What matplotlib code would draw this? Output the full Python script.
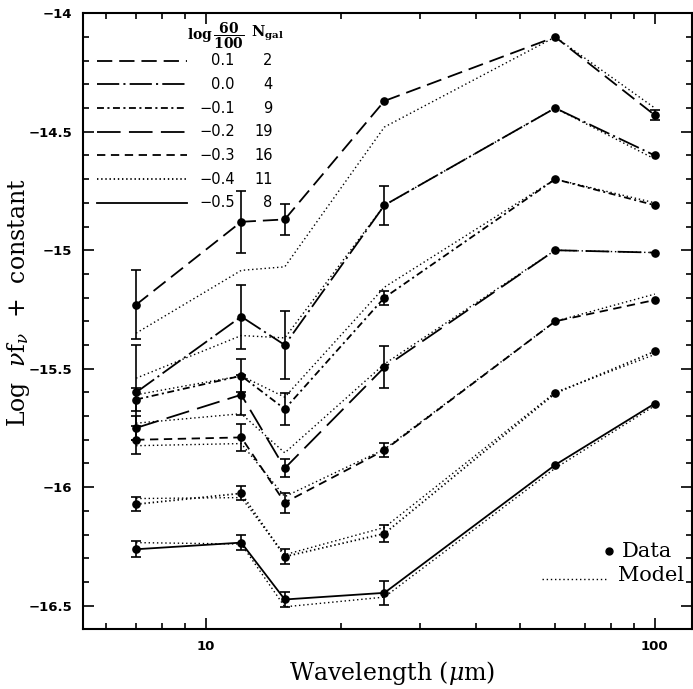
import numpy as np
import matplotlib
matplotlib.use('Agg')
import matplotlib.pyplot as plt
import matplotlib.transforms as mtransforms
from matplotlib.ticker import FixedLocator, NullFormatter, MultipleLocator

plt.rcParams['lines.scale_dashes'] = False
plt.rcParams['mathtext.fontset'] = 'dejavuserif'

wave = [7, 12, 15, 25, 60, 100]
ratio_labels = ['0.1', '0.0', '\u22120.1', '\u22120.2', '\u22120.3', '\u22120.4', '\u22120.5']
n_gal = [2, 4, 9, 19, 16, 11, 8]

data_p01 = [-15.23, -14.88, -14.87, -14.37, -14.10, -14.43]
err_p01 = [0.145, 0.13, 0.065, 0, 0, 0.02]
model_p01 = [-15.35, -15.085, -15.07, -14.48, -14.10, -14.40]

data_000 = [-15.60, -15.28, -15.40, -14.81, -14.40, -14.60]
err_000 = [0.2, 0.135, 0.143, 0.083, 0, 0]
model_000 = [-15.54, -15.36, -15.37, -14.81, -14.40, -14.615]

data_m01 = [-15.63, -15.53, -15.67, -15.20, -14.70, -14.81]
err_m01 = [0.05, 0.07, 0.067, 0.03, 0, 0]
model_m01 = [-15.61, -15.53, -15.62, -15.156, -14.70, -14.80]

data_m02 = [-15.75, -15.61, -15.92, -15.494, -15.00, -15.01]
err_m02 = [0.05, 0.085, 0.037, 0.088, 0, 0]
model_m02 = [-15.73, -15.69, -15.855, -15.48, -15.00, -15.01]

data_m03 = [-15.80, -15.79, -16.065, -15.844, -15.30, -15.21]
err_m03 = [0.06, 0.056, 0.042, 0.03, 0, 0]
model_m03 = [-15.825, -15.816, -16.04, -15.84, -15.30, -15.185]

data_m04 = [-16.072, -16.026, -16.293, -16.196, -15.604, -15.427]
err_m04 = [0.03, 0.03, 0.032, 0.037, 0, 0]
model_m04 = [-16.048, -16.044, -16.285, -16.17, -15.60, -15.44]

data_m05 = [-16.262, -16.234, -16.474, -16.446, -15.906, -15.647]
err_m05 = [0.034, 0.032, 0.032, 0.052, 0, 0]
model_m05 = [-16.234, -16.24, -16.505, -16.464, -15.92, -15.656]

all_data = [data_p01, data_000, data_m01, data_m02, data_m03, data_m04, data_m05]
all_err = [err_p01, err_000, err_m01, err_m02, err_m03, err_m04, err_m05]
all_model = [model_p01, model_000, model_m01, model_m02, model_m03, model_m04, model_m05]

# dash patterns (points) for each ratio group
styles = [(0, (11, 5)),
          (0, (16, 3, 1.5, 3)),
          (0, (5, 2.5, 1.5, 2.5)),
          (0, (17, 6)),
          (0, (6, 4)),
          (0, (1, 2)),
          '-']
model_style = (0, (1, 2))

fig = plt.figure(figsize=(6.93, 6.89), dpi=100)
ax = fig.add_axes([0.1202, 0.0866, 0.8784, 0.8941])
ax.set_xscale('log')
ax.set_xlim(5.34, 121)
ax.set_ylim(-16.6, -14.0)

for d, e, m, ls in zip(all_data, all_err, all_model, styles):
    ax.plot(wave, m, color='black', lw=1.0, linestyle=model_style)
    ax.plot(wave, d, color='black', lw=1.3, linestyle=ls)
    w = np.array(wave)
    dd = np.array(d)
    ee = np.array(e)
    ok = ee > 0
    ax.errorbar(w[ok], dd[ok], yerr=ee[ok], fmt='none', ecolor='black',
                elinewidth=1.2, capsize=3.5, capthick=1.2)
    ax.plot(wave, d, 'o', color='black', ms=5.2, linestyle='none')

# table legend top-left
trans = mtransforms.blended_transform_factory(ax.transAxes, ax.transData)
row_y = [-14.2, -14.3, -14.4, -14.5, -14.6, -14.7, -14.8]
for yy, ls, lab, n in zip(row_y, styles, ratio_labels, n_gal):
    ax.plot([0.0225, 0.170], [yy, yy], transform=trans, color='black',
            lw=1.3, linestyle=ls, clip_on=False)
    ax.text(0.249, yy, lab, transform=trans, ha='right', va='center',
            fontsize=10.5, family='DejaVu Sans')
    ax.text(0.311, yy, str(n), transform=trans, ha='right', va='center',
            fontsize=10.5, family='DejaVu Sans')
ax.text(0.170, -14.095, r'$\mathbf{log}\,\dfrac{\mathbf{60}}{\mathbf{100}}$', transform=trans,
        ha='left', va='center', fontsize=10)
ax.text(0.275, -14.085, r'$\mathbf{N_{gal}}$', transform=trans,
        ha='left', va='center', fontsize=10.5)

# Data / Model key bottom-right
ax.plot([0.863], [0.127], 'o', color='black', ms=5, transform=ax.transAxes)
ax.text(0.885, 0.127, 'Data', transform=ax.transAxes, ha='left', va='center',
        fontsize=15, family='DejaVu Serif')
ax.plot([0.753, 0.862], [0.0815, 0.0815], transform=ax.transAxes, color='black',
        lw=1.0, linestyle=model_style)
ax.text(0.878, 0.0875, 'Model', transform=ax.transAxes, ha='left', va='center',
        fontsize=15, family='DejaVu Serif')

# ticks
ax.xaxis.set_major_locator(FixedLocator([10, 100]))
ax.xaxis.set_minor_locator(FixedLocator([6, 7, 8, 9, 20, 30, 40, 50, 60, 70, 80, 90]))
ax.xaxis.set_minor_formatter(NullFormatter())
ax.set_xticklabels(['10', '100'])
ax.yaxis.set_major_locator(MultipleLocator(0.5))
ax.yaxis.set_minor_locator(MultipleLocator(0.1))
ax.set_yticks([-14, -14.5, -15, -15.5, -16, -16.5])
ax.set_yticklabels(['\u221214', '\u221214.5', '\u221215', '\u221215.5', '\u221216', '\u221216.5'])
ax.tick_params(which='both', direction='in', top=True, right=True, width=1.2,
               labelsize=9.5, pad=8)
ax.tick_params(which='major', length=8)
ax.tick_params(which='minor', length=4)
for lab in ax.get_xticklabels() + ax.get_yticklabels():
    lab.set_family('DejaVu Sans')
    lab.set_fontweight('semibold')
for sp in ax.spines.values():
    sp.set_linewidth(1.5)

ax.set_xlabel(r'Wavelength ($\mu$m)', fontsize=17, family='DejaVu Serif')
ax.xaxis.label.set_va('center')
ax.xaxis.set_label_coords(0.507, -0.071)
ax.set_ylabel(r'Log  $\nu$f$_\nu$  +  constant', fontsize=17, family='DejaVu Serif')
ax.yaxis.label.set_va('center')
ax.yaxis.set_label_coords(-0.106, 0.53)

fig.savefig('out.png', dpi=100)
